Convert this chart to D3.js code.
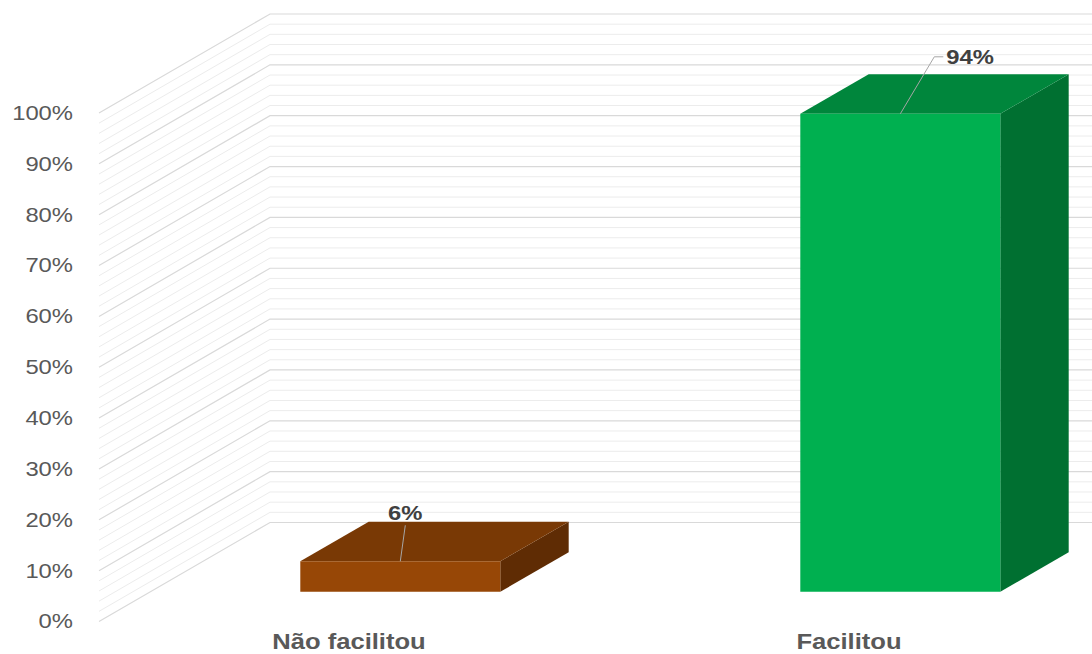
<!DOCTYPE html>
<html>
<head>
<meta charset="utf-8">
<script src="https://cdn.jsdelivr.net/npm/d3@7"></script>
<style>
  html, body { margin: 0; padding: 0; background: #fff; }
  svg { display: block; font-family: "Liberation Sans", Arial, sans-serif; }
</style>
</head>
<body>
<svg id="chart" width="1092" height="654"></svg>
<script>
// Chart data
const categories = ["Não facilitou", "Facilitou"];
const values = [0.06, 0.94];
const valueLabels = ["6%", "94%"];
const tickValues = [0, 0.1, 0.2, 0.3, 0.4, 0.5, 0.6, 0.7, 0.8, 0.9, 1.0];

// Bar face colours: front, top, side
const faceColors = [
  { front: "#974706", top: "#793905", side: "#5f2c04" },
  { front: "#00b050", top: "#00863c", side: "#007031" }
];

const W = 1092, H = 654;
const svg = d3.select("#chart");

// 3D projection: depth runs up and to the right
const DEPTH_DX = 171, DEPTH_DY = -99;
const STRETCH = 1.19; // horizontal text stretch

const y = d3.scaleLinear().domain([0, 1]).range([621.5, 113]);
const x = d3.scaleBand().domain(categories).range([99, 1099]).padding(0);

const P = (px, v, d) => [px + d * DEPTH_DX, y(v) + d * DEPTH_DY];

// Gridlines: side wall diagonals + back wall horizontals
const gridVals = d3.range(0, 51).map(i => i / 50);
const grid = svg.append("g");
gridVals.forEach((v, i) => {
  const major = i % 5 === 0;
  const a = P(99, v, 0), b = P(99, v, 1);
  grid.append("path")
    .attr("d", `M${a[0]},${a[1]}L${b[0]},${b[1]}L${W},${b[1]}`)
    .attr("fill", "none")
    .attr("stroke", major ? "#d9d9d9" : "#ececec")
    .attr("stroke-width", major ? 1.2 : 1);
});

// Y axis labels
const yAxis = d3.axisLeft(y)
  .tickValues(tickValues)
  .tickFormat(d3.format(".0%"))
  .tickSize(0)
  .tickPadding(0);
const gy = svg.append("g").attr("transform", "translate(73,0)").call(yAxis);
gy.select(".domain").remove();
gy.selectAll("text")
  .attr("fill", "#595959")
  .style("font-size", "20px")
  .style("font-family", "'Liberation Sans', Arial, sans-serif")
  .attr("transform", `scale(${STRETCH},1)`);

// 3D bars
const D0 = 0.3, D1 = 0.7;
const barsG = svg.append("g");
categories.forEach((c, i) => {
  const xc = x(c) + x.bandwidth() / 2;
  const hw = x.bandwidth() * 0.2;
  const v = values[i];
  const col = faceColors[i];
  const poly = pts => pts.map(p => p.join(",")).join(" ");
  const g = barsG.append("g");
  g.append("polygon")
    .attr("points", poly([P(xc + hw, 0, D0), P(xc + hw, 0, D1), P(xc + hw, v, D1), P(xc + hw, v, D0)]))
    .attr("fill", col.side);
  g.append("polygon")
    .attr("points", poly([P(xc - hw, v, D0), P(xc + hw, v, D0), P(xc + hw, v, D1), P(xc - hw, v, D1)]))
    .attr("fill", col.top);
  g.append("polygon")
    .attr("points", poly([P(xc - hw, 0, D0), P(xc + hw, 0, D0), P(xc + hw, v, D0), P(xc - hw, v, D0)]))
    .attr("fill", col.front);
});

// Data labels with leader lines
const labelOffsets = [
  { line: [[0, 0], [5, -36]], text: [5, -41], anchor: "middle" },
  { line: [[0, 0], [34, -57], [43, -57]], text: [46, -50], anchor: "start" }
];
categories.forEach((c, i) => {
  const xc = x(c) + x.bandwidth() / 2;
  const a = P(xc, values[i], D0);
  const o = labelOffsets[i];
  svg.append("path")
    .attr("d", d3.line()(o.line.map(p => [a[0] + p[0], a[1] + p[1]])))
    .attr("fill", "none")
    .attr("stroke", "#a6a6a6")
    .attr("stroke-width", 1);
  svg.append("text")
    .attr("transform", `translate(${a[0] + o.text[0]},${a[1] + o.text[1]}) scale(${STRETCH},1)`)
    .attr("text-anchor", o.anchor)
    .attr("fill", "#404040")
    .style("font-size", "20px")
    .style("font-weight", "bold")
    .text(valueLabels[i]);
});

// Category labels
categories.forEach(c => {
  const xc = x(c) + x.bandwidth() / 2;
  svg.append("text")
    .attr("transform", `translate(${xc},649) scale(${STRETCH},1)`)
    .attr("text-anchor", "middle")
    .attr("fill", "#595959")
    .style("font-size", "21.5px")
    .style("font-weight", "bold")
    .text(c);
});
</script>
</body>
</html>
